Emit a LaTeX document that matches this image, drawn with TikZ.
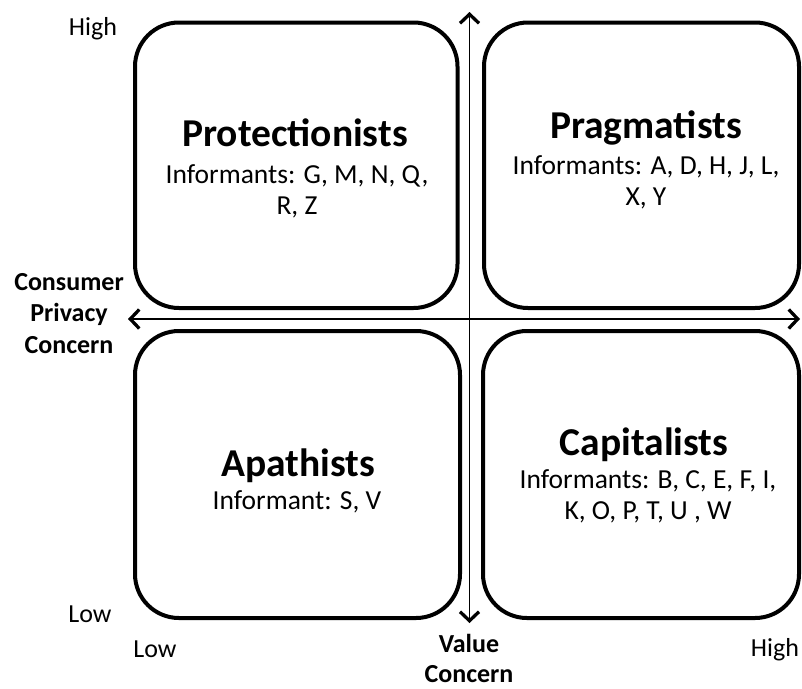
\documentclass[tikz,border=0pt]{standalone}
\usepackage{fontspec}
\setmainfont{Carlito}
\usetikzlibrary{arrows.meta}
\newcommand{\bodyfont}{\fontsize{26}{31}\selectfont}
\newcommand{\boxfont}{\fontsize{27.5}{31}\selectfont}
\newcommand{\titlefont}{\fontsize{39.5}{44}\selectfont\bfseries}
\newcommand{\axisfont}{\fontsize{26}{31.5}\selectfont\bfseries}
\newcommand{\stack}[1]{\begin{tabular}[t]{@{}c@{}}#1\end{tabular}}
\tikzset{
  quad/.style={draw=black, line width=4pt, rounded corners=44pt, rectangle, inner sep=0pt},
  barb/.tip={Straight Barb[length=9pt,width=19pt,line width=3.3pt]},
  axisline/.style={line width=1.6pt, barb-barb},
  ttl/.style={anchor=base, inner sep=0pt, font=\titlefont},
  inf/.style={anchor=base, inner sep=0pt, font=\boxfont},
  bdy/.style={anchor=base, inner sep=0pt, font=\bodyfont},
  axlab/.style={anchor=base, inner sep=0pt, font=\axisfont},
}
\begin{document}
\begin{tikzpicture}[x=1pt,y=-1pt]
\useasboundingbox[fill=white] (0,0) rectangle (802,688);
% quadrant boxes
\node[quad, minimum width=322.5pt, minimum height=285.5pt] (tl) at (296.25,165.25) {};
\node[quad, minimum width=315pt, minimum height=285.5pt] (tr) at (641.5,165.25) {};
\node[quad, minimum width=325pt, minimum height=287pt] (bl) at (297.5,474.5) {};
\node[quad, minimum width=316pt, minimum height=287pt] (br) at (641,474.5) {};
% axes
\coordinate (xl) at (128,319);
\coordinate (xr) at (800,319);
\coordinate (yt) at (469.5,12);
\coordinate (yb) at (469.5,623);
\draw[axisline] (xl) -- (xr);
\draw[axisline] (yb) -- (yt);
% box texts
\node[ttl] (t1) at (295,146) {Protectionists};
\node[inf] (b1) at (297,183) {\stack{Informants: G, M, N, Q,\\R, Z}};
\node[ttl] (t2) at (646,138) {Pragmatists};
\node[inf] (b2) at (646,174) {\stack{Informants: A, D, H, J, L,\\X, Y}};
\node[ttl] (t3) at (298,476) {Apathists};
\node[inf] (b3) at (297,509) {\stack{Informant: S, V}};
\node[ttl] (t4) at (644,455) {Capitalists};
\node[inf] (b4) at (648,488) {\stack{Informants: B, C, E, F, I,\\K, O, P, T, U , W}};
% axis labels
\node[bdy] (hi1) at (93,35) {High};
\node[bdy] (lo1) at (90,622) {Low};
\node[bdy] (lo2) at (155,657) {Low};
\node[bdy] (hi2) at (775,656) {High};
\node[axlab] (cpc) at (69,290) {\stack{Consumer\\Privacy\\Concern}};
\node[axlab, font=\fontsize{26}{30}\selectfont\bfseries] (vc) at (469,652) {\stack{Value\\Concern}};
\end{tikzpicture}
\end{document}
